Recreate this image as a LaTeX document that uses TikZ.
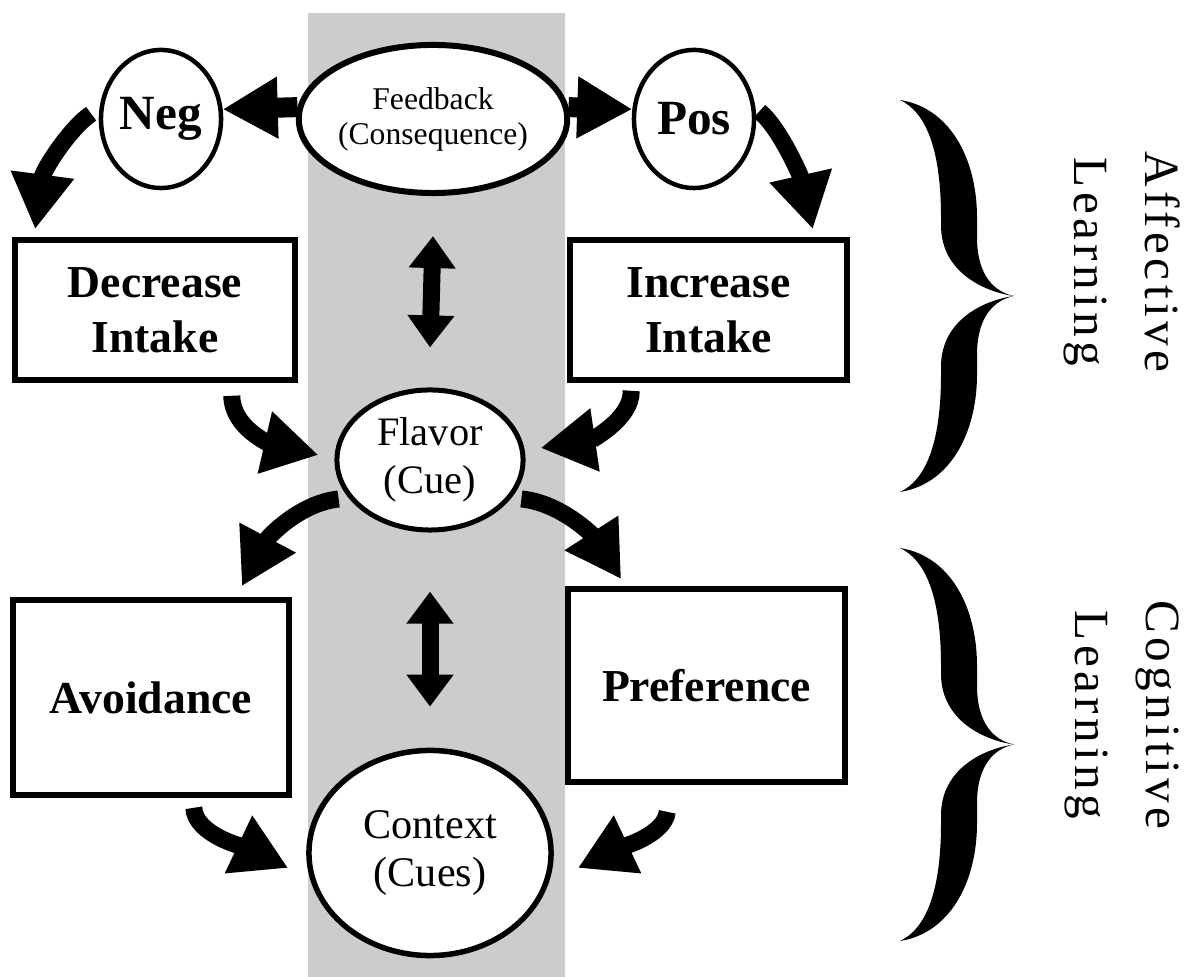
\documentclass[tikz,border=0pt]{standalone}
\usepackage{fontspec}
\setmainfont{Liberation Serif}
\newfontfamily\spaced{Liberation Serif}[LetterSpace=9]
\usetikzlibrary{shapes.geometric,arrows.meta}
\definecolor{stripe}{gray}{0.80}
\tikzset{oval/.style={ellipse, draw, fill=white, line width=0.045cm,
                      inner sep=0pt, align=center},
         panel/.style={rectangle, draw, fill=white, line width=0.055cm,
                       inner sep=0pt, align=center,
                       font=\bfseries\fontsize{13}{15.6}\selectfont},
         flat/.style={line width=0.2cm, -{Triangle[length=0.55cm,width=0.58cm]}},
         bent/.style={line width=0.17cm, -{Triangle[length=0.55cm,width=0.6cm]}},
         twoway/.style={line width=0.17cm,
                        {Triangle[length=0.32cm,width=0.45cm]}-{Triangle[length=0.32cm,width=0.45cm]}},
         side/.style={rotate=-90, align=center,
                      font=\spaced\fontsize{14}{20}\selectfont}}

\begin{document}
\begin{tikzpicture}[x=0.01cm, y=-0.01cm]
                \useasboundingbox (0,0) rectangle (1197,977);
                \fill[stripe] (308,13) rectangle (565,977);

                \node[oval, line width=0.06cm, minimum width=2.16cm, minimum height=1.48cm,
                      font=\fontsize{9}{10}\selectfont] (feedback) at (433,119) {Feedback\\(Consequence)};
                \node[oval, minimum width=1.2cm, minimum height=1.38cm,
                      font=\bfseries\fontsize{14}{16}\selectfont] (neg) at (161,119) {Neg};
                \node[oval, minimum width=1.2cm, minimum height=1.38cm,
                      font=\bfseries\fontsize{14}{16}\selectfont] (pos) at (694,119) {Pos};

                \draw[flat] (feedback.175) -- (neg.9);
                \draw[flat] (feedback.5) -- (pos.171);

                \node[panel, minimum width=2.8cm, minimum height=1.4cm] (decrease) at (155,310) {Decrease\\Intake};
                \node[panel, minimum width=2.77cm, minimum height=1.4cm] (increase) at (708.5,310) {Increase\\Intake};

                \draw[bent, shorten <=0.1cm] (neg.170) .. controls (70,128) and (43,170) .. ([xshift=0.23cm,yshift=0.08cm]decrease.north west);
                \draw[bent, shorten <=0.05cm] (pos.10) .. controls (780,128) and (801,177) .. ([xshift=-0.37cm,yshift=0.08cm]increase.north east);

                \node[oval, line width=0.05cm, minimum width=1.86cm, minimum height=1.4cm,
                      font=\fontsize{11.5}{13.6}\selectfont] (flavor) at (430,460) {Flavor\\(Cue)};

                \draw[twoway] ([yshift=-0.4cm]feedback.south) -- ([yshift=0.4cm]flavor.north);

                \draw[bent] ([xshift=-0.66cm,yshift=-0.13cm]decrease.south east) .. controls (232,428) and (271,444) .. ([xshift=-0.16cm,yshift=0.05cm]flavor.west);
                \draw[bent] ([xshift=0.64cm,yshift=-0.08cm]increase.south west) .. controls (632,420) and (588,441) .. ([xshift=0.15cm,yshift=0.12cm]flavor.east);

                \node[panel, minimum width=2.76cm, minimum height=1.95cm] (avoidance) at (151,697.5) {Avoidance};
                \node[panel, minimum width=2.77cm, minimum height=1.93cm] (preference) at (706.5,685.5) {Preference};

                \draw[bent, shorten <=0.1cm] (flavor.205) .. controls (300,503) and (268,537) .. ([xshift=-0.5cm,yshift=0.11cm]avoidance.north east);
                \draw[bent, shorten <=0.1cm] (flavor.335) .. controls (562,503) and (594,537) .. ([xshift=0.56cm,yshift=0.07cm]preference.north west);

                \node[oval, line width=0.055cm, minimum width=2.42cm, minimum height=2.05cm,
                      font=\fontsize{12}{13.6}\selectfont] (context) at (430,853) {Context\\(Cues)};

                \draw[twoway] ([yshift=-0.59cm]flavor.south) -- ([yshift=0.41cm]context.north);

                \draw[bent] ([xshift=-0.98cm,yshift=-0.1cm]avoidance.south east) .. controls (195,835) and (246,848) .. ([xshift=-0.18cm,yshift=-0.15cm]context.west);
                \draw[bent] ([xshift=1.02cm,yshift=-0.27cm]preference.south west) .. controls (665,835) and (620,848) .. ([xshift=0.24cm,yshift=-0.15cm]context.east);

                \foreach \ya/\yb in {100/492, 548/941} {
                    \pgfmathsetmacro\ym{(\ya+\yb)/2}
                    \pgfmathsetmacro\hh{\yb-\ya}
                    \fill (900,\ya) .. controls (950,\ya+0.02*\hh) and (977,\ya+0.15*\hh) .. (977,\ya+0.3*\hh)
                        -- (977,\ym-0.15*\hh) .. controls (977,\ym-0.05*\hh) and (995,\ym-0.01*\hh) .. (1014,\ym)
                        .. controls (985,\ym-0.01*\hh) and (941,\ym-0.06*\hh) .. (941,\ym-0.18*\hh)
                        -- (941,\ya+0.3*\hh) .. controls (941,\ya+0.12*\hh) and (925,\ya+0.03*\hh) .. (900,\ya) -- cycle;
                    \fill (900,\yb) .. controls (950,\yb-0.02*\hh) and (977,\yb-0.15*\hh) .. (977,\yb-0.3*\hh)
                        -- (977,\ym+0.15*\hh) .. controls (977,\ym+0.05*\hh) and (995,\ym+0.01*\hh) .. (1014,\ym)
                        .. controls (985,\ym+0.01*\hh) and (941,\ym+0.06*\hh) .. (941,\ym+0.18*\hh)
                        -- (941,\yb-0.3*\hh) .. controls (941,\yb-0.12*\hh) and (925,\yb-0.03*\hh) .. (900,\yb) -- cycle;
                }

                \node[side] (affective) at (1122,262) {Affective\\Learning};
                \node[side] (cognitive) at (1122,715) {Cognitive\\Learning};
            \end{tikzpicture}
\end{document}
